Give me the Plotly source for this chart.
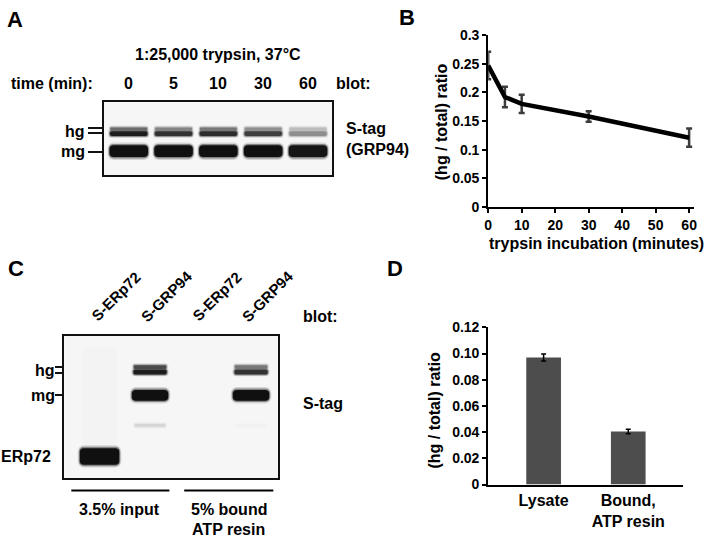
import plotly.graph_objects as go

W, H = 712, 545
FONT = "Liberation Sans, Arial, sans-serif"

# ---- panel B: trypsin time course ----
time_min = [0, 5, 10, 30, 60]
ratio_b = [0.247, 0.192, 0.180, 0.158, 0.121]
err_b = [0.024, 0.018, 0.016, 0.009, 0.016]

# ---- panel D: lysate vs bound ----
cats_d = ["Lysate", "Bound,<br>ATP resin"]
ratio_d = [0.097, 0.0405]
err_d = [0.0027, 0.0018]

# ---- panel A blot: band intensities per lane (0..1) ----
lanes_a = ["0", "5", "10", "30", "60"]
hg_upper_a = [0.60, 0.50, 0.55, 0.45, 0.25]
hg_lower_a = [0.95, 0.85, 0.88, 0.80, 0.45]
mg_a = [1.0, 1.0, 1.0, 1.0, 0.98]

# ---- panel C blot ----
lanes_c = ["S-ERp72", "S-GRP94", "S-ERp72", "S-GRP94"]
hg_upper_c = [0.0, 0.75, 0.0, 0.55]
hg_lower_c = [0.0, 0.95, 0.0, 0.85]
mg_c = [0.0, 1.0, 0.0, 1.0]
faint_c = [0.0, 0.14, 0.0, 0.02]
erp72_c = [1.0, 0.0, 0.0, 0.0]
smear_c = [0.015, 0.0, 0.0, 0.0]


def px(x):
    return x / W


def py(y):
    return 1 - y / H


def gray(v):
    g = int(round(246 - 230 * v))
    return f"rgb({g},{g},{g})"


layers = [[], [], []]  # outer halo, inner halo, core


def bands(intensity, row, thick, width, xa, ya, halo=3):
    """one horizontal band per lane, drawn as floating bars on a blot axis"""
    idx = [i for i, v in enumerate(intensity) if v > 0]
    specs = [(thick, width, 1.0, 0)]
    if halo:
        specs = [(thick + 2 * halo, width + 0.08, 0.15, 6),
                 (thick + halo, width + 0.04, 0.5, 5)] + specs
        lay = [0, 1, 2]
    else:
        lay = [2]
    for k, (t, w, f, cr) in zip(lay, specs):
        layers[k].append(go.Bar(
            x=idx, y=[t] * len(idx), base=[row - t / 2] * len(idx), width=w,
            marker=dict(color=[gray(intensity[i] * f) for i in idx], line_width=0,
                        cornerradius=cr if cr else 4),
            xaxis=xa, yaxis=ya, hoverinfo="skip", showlegend=False))


# blot A
bands(hg_upper_a, 28, 4, 0.82, "x3", "y3", halo=2)
bands(hg_lower_a, 32.5, 5, 0.84, "x3", "y3", halo=2)
bands(mg_a, 50.5, 12, 0.86, "x3", "y3", halo=3)

# blot C
bands(smear_c, 62, 100, 0.7, "x4", "y4", halo=0)
bands(hg_upper_c, 32, 4, 0.64, "x4", "y4", halo=2)
bands(hg_lower_c, 37, 5, 0.66, "x4", "y4", halo=2)
bands(faint_c, 92, 3, 0.6, "x4", "y4", halo=2)
bands(mg_c, 61, 11, 0.72, "x4", "y4", halo=3)
bands(erp72_c, 124, 17, 0.78, "x4", "y4", halo=3)

fig = go.Figure(data=layers[0] + layers[1] + layers[2])

# panel B line
fig.add_trace(go.Scatter(
    x=time_min, y=ratio_b, mode="lines",
    line=dict(color="black", width=4.5),
    error_y=dict(type="data", array=err_b, color="#3c3c3c", thickness=2.5, width=3),
    xaxis="x", yaxis="y", showlegend=False))

# panel D bars
fig.add_trace(go.Bar(
    x=[0, 1], y=ratio_d, width=0.41, marker=dict(color="#4d4d4d", line_width=0),
    error_y=dict(type="data", array=err_d, color="black", thickness=1.5, width=2.5),
    xaxis="x2", yaxis="y2", showlegend=False))

tickfont = dict(family=FONT, size=14, color="black", weight="bold")
axis_common = dict(showgrid=False, zeroline=False, showline=True, linecolor="black",
                   linewidth=2, ticks="outside", ticklen=4, tickwidth=2,
                   tickcolor="black", tickfont=tickfont)

blot_x = dict(showgrid=False, zeroline=False, showline=True, mirror=True, linecolor="#111",
              linewidth=2, showticklabels=False, ticks="")

fig.update_layout(
    width=W, height=H, margin=dict(l=0, r=0, t=0, b=0),
    paper_bgcolor="white", plot_bgcolor="white", barmode="overlay",
    font=dict(family=FONT, size=16, color="black", weight="bold"),
    xaxis=dict(axis_common, domain=[px(489), px(697)], range=[0, 61.5],
               tickvals=[0, 10, 20, 30, 40, 50, 60], anchor="y"),
    yaxis=dict(axis_common, domain=[py(205), py(28)], range=[0, 0.3],
               tickvals=[0, 0.05, 0.1, 0.15, 0.2, 0.25, 0.3],
               ticktext=["0", "0.05", "0.1", "0.15", "0.2", "0.25", "0.3"], anchor="x"),
    xaxis2=dict(axis_common, domain=[px(489), px(686)], range=[-0.655, 1.65],
                tickvals=[0, 1], ticktext=cats_d, ticks="", anchor="y2",
                tickfont=dict(tickfont, size=16)),
    yaxis2=dict(axis_common, domain=[py(491), py(329)], range=[0, 0.12],
                tickvals=[0, 0.02, 0.04, 0.06, 0.08, 0.10, 0.12],
                ticktext=["0", "0.02", "0.04", "0.06", "0.08", "0.10", "0.12"], anchor="x2"),
    xaxis3=dict(blot_x, domain=[px(101), px(331)], range=[-0.552, 4.53], anchor="y3"),
    yaxis3=dict(blot_x, domain=[py(172), py(97)], range=[75, 0], anchor="x3",
                ticks="outside", ticklen=14, tickwidth=2, tickcolor="#111",
                tickvals=[27, 32, 51]),
    xaxis4=dict(blot_x, domain=[px(61), px(277)], range=[-0.696, 3.539], anchor="y4"),
    yaxis4=dict(blot_x, domain=[py(484), py(338)], range=[146, 0], anchor="x4",
                ticks="outside", ticklen=7, tickwidth=2, tickcolor="#111",
                tickvals=[32, 38, 61]),
)

# blot backgrounds
for xa, ya in (("x3", "y3"), ("x4", "y4")):
    fig.add_shape(type="rect", xref=f"{xa} domain", yref=f"{ya} domain", x0=0, x1=1,
                  y0=0, y1=1, fillcolor="#f6f6f6", line_width=0, layer="below")

# underlines in panel C
for x0, x1 in ((68, 167), (182, 272)):
    fig.add_shape(type="line", xref="paper", yref="paper", x0=px(x0), x1=px(x1),
                  y0=py(497), y1=py(497), line=dict(color="black", width=2))


def ann(text, x, y, xanchor="center", size=16, angle=0, xref="paper", xshift=0):
    fig.add_annotation(text=text, x=x if xref != "paper" else px(x), y=py(y),
                       xref=xref, yref="paper", xanchor=xanchor, yanchor="middle",
                       showarrow=False, textangle=angle, xshift=xshift,
                       font=dict(family=FONT, size=size, color="black", weight="bold"))


# panel letters
ann("A", 11, 12, size=22)
ann("B", 407, 10, size=22)
ann("C", 12, 268, size=22)
ann("D", 395, 268, size=22)

# panel A text
ann("1:25,000 trypsin, 37°C", 216, 48)
ann("time (min):", 5, 78, xanchor="left")
for i, lab in enumerate(lanes_a):
    ann(lab, i, 78, xref="x3")
ann("blot:", 333, 78, xanchor="left")
ann("hg", 84, 127, xanchor="right")
ann("mg", 84, 148, xanchor="right")
ann("S-tag", 343, 124, xanchor="left")
ann("(GRP94)", 343, 146, xanchor="left")

# panel B titles
ann("(hg / total) ratio", 442, 117, angle=-90)
ann("trypsin incubation (minutes)", 598, 243)

# panel C text
for i, lab in enumerate(lanes_c):
    ann(lab, i, 297, xref="x4", angle=-45, size=15, xshift=16)
ann("blot:", 300, 318, xanchor="left")
ann("hg", 54, 373, xanchor="right")
ann("mg", 54, 399, xanchor="right")
ann("ERp72", 49, 462, xanchor="right")
ann("S-tag", 300, 407, xanchor="left")
ann("3.5% input", 117, 517)
ann("5% bound", 227, 517)
ann("ATP resin", 227, 537)

# panel D title
ann("(hg / total) ratio", 435, 414, angle=-90)

fig.write_html("out.html", config={"displayModeBar": False},
               post_script="document.body.style.margin='0';")
